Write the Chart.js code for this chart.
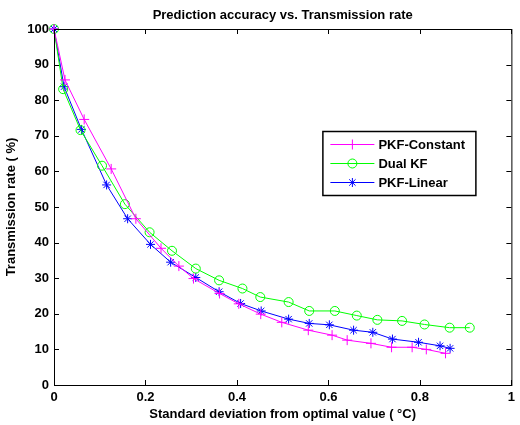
<!DOCTYPE html>
<html>
<head>
<meta charset="utf-8">
<script src="https://cdn.jsdelivr.net/npm/chart.js@4.4.1/dist/chart.umd.min.js"></script>
<style>
  html, body { margin: 0; padding: 0; background: #fff; }
  #wrap { width: 520px; height: 425px; }
</style>
</head>
<body>
<div id="wrap"><canvas id="chart" width="520" height="425"></canvas></div>
<script>
// data
const xPkfConstant = [0, 0.024, 0.066, 0.125, 0.179, 0.234, 0.273, 0.305, 0.362, 0.404, 0.452, 0.498, 0.556, 0.608, 0.641, 0.693, 0.738, 0.783, 0.814, 0.856];
const yPkfConstant = [100, 85.7, 74.6, 60.7, 46.7, 38.4, 33.4, 29.9, 25.7, 22.8, 19.9, 17.6, 15.4, 14.0, 12.6, 11.7, 10.6, 10.6, 10.0, 8.9];

const xDualKf = [0, 0.020, 0.058, 0.105, 0.155, 0.209, 0.258, 0.310, 0.361, 0.412, 0.451, 0.513, 0.558, 0.614, 0.662, 0.707, 0.761, 0.810, 0.865, 0.909];
const yDualKf = [100, 83.1, 71.6, 61.6, 50.8, 42.9, 37.7, 32.7, 29.4, 27.1, 24.7, 23.3, 20.8, 20.8, 19.5, 18.3, 18.0, 17.0, 16.1, 16.1];

const xPkfLinear = [0, 0.022, 0.060, 0.115, 0.161, 0.211, 0.255, 0.310, 0.361, 0.408, 0.453, 0.513, 0.558, 0.602, 0.655, 0.697, 0.740, 0.797, 0.844, 0.866];
const yPkfLinear = [100, 83.8, 71.8, 56.2, 46.7, 39.5, 34.5, 30.2, 26.2, 22.9, 20.8, 18.5, 17.3, 16.9, 15.4, 14.8, 12.9, 12.0, 11.0, 10.3];

const seriesNames = ["PKF-Constant", "Dual KF", "PKF-Linear"];
const xTicks = [0, 0.2, 0.4, 0.6, 0.8, 1];
const yTicks = [0, 10, 20, 30, 40, 50, 60, 70, 80, 90, 100];

const FONT = "'Liberation Sans', Arial, Helvetica, sans-serif";

const toPoints = (xs, ys) => xs.map((x, i) => ({ x, y: ys[i] }));

function makeSet(label, pts, color, style, radius) {
  return {
    label,
    data: pts,
    borderColor: color,
    backgroundColor: "rgba(0,0,0,0)",
    pointBorderColor: color,
    pointBackgroundColor: "rgba(0,0,0,0)",
    pointStyle: style,
    pointRadius: radius,
    pointBorderWidth: 1,
    borderWidth: 1,
    showLine: true,
    tension: 0,
    clip: false,
  };
}

// matlab-like frame, inward ticks, title and legend
const matlabFrame = {
  id: "matlabFrame",
  afterDraw(chart) {
    const ctx = chart.ctx;
    const a = chart.chartArea;
    const sx = chart.scales.x;
    const sy = chart.scales.y;
    ctx.save();
    ctx.strokeStyle = "#000";
    ctx.lineWidth = 1;
    ctx.strokeRect(a.left + 0.5, a.top + 0.5, a.right - a.left, a.bottom - a.top);

    ctx.beginPath();
    xTicks.forEach((v) => {
      const px = Math.round(sx.getPixelForValue(v)) + 0.5;
      ctx.moveTo(px, a.bottom);
      ctx.lineTo(px, a.bottom - 5);
      ctx.moveTo(px, a.top);
      ctx.lineTo(px, a.top + 5);
    });
    yTicks.forEach((v) => {
      const py = Math.round(sy.getPixelForValue(v)) + 0.5;
      ctx.moveTo(a.left, py);
      ctx.lineTo(a.left + 5, py);
      ctx.moveTo(a.right, py);
      ctx.lineTo(a.right - 5, py);
    });
    ctx.stroke();

    // title
    ctx.fillStyle = "#000";
    ctx.font = "bold 13px " + FONT;
    ctx.textAlign = "center";
    ctx.textBaseline = "middle";
    ctx.fillText("Prediction accuracy vs. Transmission rate", (a.left + a.right) / 2, 15);

    // legend box
    const lx = a.right - 189;
    const ly = a.top + 102;
    const lw = 153;
    const lh = 64;
    ctx.fillStyle = "#fff";
    ctx.fillRect(lx, ly, lw, lh);
    ctx.lineWidth = 1.5;
    ctx.strokeRect(lx + 0.5, ly + 0.5, lw, lh);
    ctx.lineWidth = 1;
    ctx.font = "bold 13px " + FONT;
    ctx.textAlign = "left";
    chart.data.datasets.forEach((ds, i) => {
      const ry = ly + 13 + i * 19;
      ctx.strokeStyle = ds.borderColor;
      ctx.beginPath();
      ctx.moveTo(lx + 8, ry + 0.5);
      ctx.lineTo(lx + 52, ry + 0.5);
      ctx.stroke();
      ctx.fillStyle = "rgba(0,0,0,0)";
      Chart.helpers.drawPoint(ctx, {
        pointStyle: ds.pointStyle,
        radius: ds.pointRadius,
        borderWidth: 1,
        rotation: 0,
      }, lx + 30, ry + 0.5);
      ctx.fillStyle = "#000";
      ctx.fillText(ds.label, lx + 56, ry + 1);
    });
    ctx.restore();
  },
};

new Chart(document.getElementById("chart"), {
  type: "scatter",
  data: {
    datasets: [
      makeSet(seriesNames[0], toPoints(xPkfConstant, yPkfConstant), "#ff00ff", "cross", 5),
      makeSet(seriesNames[1], toPoints(xDualKf, yDualKf), "#00ff00", "circle", 4.5),
      makeSet(seriesNames[2], toPoints(xPkfLinear, yPkfLinear), "#0000ff", "star", 4.5),
    ],
  },
  options: {
    responsive: false,
    animation: false,
    events: [],
    layout: { padding: { top: 29, right: 3, bottom: 0, left: 0 } },
    plugins: {
      legend: { display: false },
      title: { display: false },
      tooltip: { enabled: false },
    },
    scales: {
      x: {
        type: "linear",
        min: 0,
        max: 1,
        afterBuildTicks: (s) => { s.ticks = xTicks.map((v) => ({ value: v })); },
        afterFit: (s) => { s.height = 40; },
        grid: { display: false, drawTicks: false },
        border: { display: false },
        ticks: {
          color: "#000",
          padding: 5,
          font: { family: FONT, size: 13, weight: "bold" },
          callback: (v) => String(v),
        },
        title: {
          display: true,
          text: "Standard deviation from optimal value ( \u00b0C)",
          color: "#000",
          padding: { top: 0, bottom: 3 },
          font: { family: FONT, size: 13, weight: "bold" },
        },
      },
      y: {
        type: "linear",
        min: 0,
        max: 100,
        afterBuildTicks: (s) => { s.ticks = yTicks.map((v) => ({ value: v })); },
        afterFit: (s) => { s.width = 54; },
        grid: { display: false, drawTicks: false },
        border: { display: false },
        ticks: {
          color: "#000",
          padding: 5,
          font: { family: FONT, size: 13, weight: "bold" },
        },
        title: {
          display: true,
          text: "Transmission rate ( %)",
          color: "#000",
          padding: { top: 4, bottom: 0 },
          font: { family: FONT, size: 13, weight: "bold" },
        },
      },
    },
  },
  plugins: [matlabFrame],
});
</script>
</body>
</html>
